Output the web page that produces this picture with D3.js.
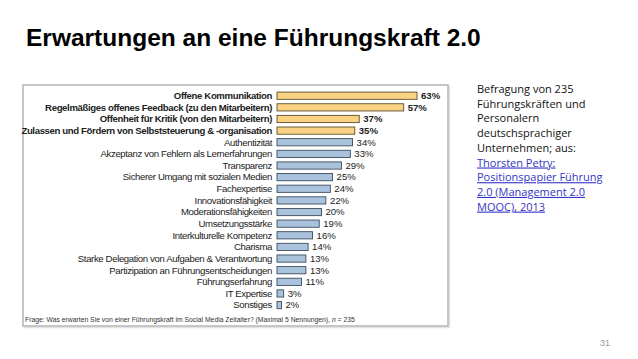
<!DOCTYPE html>
<html><head><meta charset="utf-8">
<script src="https://cdn.jsdelivr.net/npm/d3@7/dist/d3.min.js"></script>
<style>body{margin:0;background:#fff;}svg{display:block;}</style>
</head><body>
<script>
const categories = [
  "Offene Kommunikation",
  "Regelmäßiges offenes Feedback (zu den Mitarbeitern)",
  "Offenheit für Kritik (von den Mitarbeitern)",
  "Zulassen und Fördern von Selbststeuerung & -organisation",
  "Authentizität",
  "Akzeptanz von Fehlern als Lernerfahrungen",
  "Transparenz",
  "Sicherer Umgang mit sozialen Medien",
  "Fachexpertise",
  "Innovationsfähigkeit",
  "Moderationsfähigkeiten",
  "Umsetzungsstärke",
  "Interkulturelle Kompetenz",
  "Charisma",
  "Starke Delegation von Aufgaben & Verantwortung",
  "Partizipation an Führungsentscheidungen",
  "Führungserfahrung",
  "IT Expertise",
  "Sonstiges"
];
const values = [63, 57, 37, 35, 34, 33, 29, 25, 24, 22, 20, 19, 16, 14, 13, 13, 11, 3, 2];
const highlighted = [true, true, true, true, false, false, false, false, false, false, false, false, false, false, false, false, false, false, false];
const title = "Erwartungen an eine Führungskraft 2.0";
const footnote = ["Frage: Was erwarten Sie von einer Führungskraft im Social Media Zeitalter? (Maximal 5 Nennungen), ", "n", " = 235"];
const sideText = ["Befragung von 235", "Führungskräften und", "Personalern", "deutschsprachiger", "Unternehmen; aus:"];
const linkText = ["Thorsten Petry:", "Positionspapier Führung", "2.0 (Management 2.0", "MOOC), 2013"];
const pageNumber = "31";

const W = 638, H = 359;
const svg = d3.select("body").append("svg").attr("width", W).attr("height", H);

svg.append("text").attr("x", 26).attr("y", 46)
  .style("font-family", "Liberation Sans, Arial, sans-serif").style("font-weight", "bold")
  .style("font-size", "24.5px").attr("fill", "#000").text(title);

// chart frame with faint shadow
svg.append("rect").attr("x", 24.5).attr("y", 86.5).attr("width", 425).attr("height", 241)
  .attr("fill", "none").attr("stroke", "#e2e2e2").attr("stroke-width", 1.5);
svg.append("rect").attr("x", 23).attr("y", 85).attr("width", 425).attr("height", 241)
  .attr("fill", "#fff").attr("stroke", "#b4b4b4").attr("stroke-width", 1.5);

const x = d3.scaleLinear().domain([0, 63]).range([277, 417]);
const y = d3.scaleBand().domain(categories).range([89.9, 310.9]).paddingInner(0.38).paddingOuter(0.19);

const g = svg.append("g");
categories.forEach((c, i) => {
  const hl = highlighted[i];
  const cy = y(c) + y.bandwidth() / 2;
  g.append("rect").attr("x", x(0)).attr("y", y(c)).attr("width", x(values[i]) - x(0)).attr("height", y.bandwidth())
    .attr("fill", hl ? "#f9d383" : "#a9c3dc").attr("stroke", hl ? "#5e4e2c" : "#3c4d60").attr("stroke-width", 0.9);
  g.append("text").attr("x", 272).attr("y", cy).attr("dy", "0.35em")
    .attr("text-anchor", "end").style("font-family", "Liberation Sans, Arial, sans-serif")
    .style("font-size", "9.6px").style("font-weight", hl ? "bold" : "normal").attr("fill", "#222")
    .style("letter-spacing", "-0.37px").text(c);
  g.append("text").attr("x", x(values[i]) + 4).attr("y", cy).attr("dy", "0.35em")
    .style("font-family", "Liberation Sans, Arial, sans-serif")
    .style("font-size", "9.6px").style("font-weight", hl ? "bold" : "normal").attr("fill", "#222")
    .text(values[i] + "%");
});

const fn = svg.append("text").attr("x", 25).attr("y", 322)
  .style("font-family", "Liberation Sans, Arial, sans-serif").style("font-size", "6.8px").attr("fill", "#333");
fn.append("tspan").text(footnote[0]);
fn.append("tspan").style("font-style", "italic").text(footnote[1]);
fn.append("tspan").text(footnote[2]);

const side = svg.append("g").style("font-family", "Open Sans, sans-serif").style("font-size", "11px");
sideText.forEach((t, i) => {
  side.append("text").attr("x", 477).attr("y", 93 + i * 14.7).attr("fill", "#111").text(t);
});
linkText.forEach((t, i) => {
  side.append("text").attr("x", 477).attr("y", 93 + (i + sideText.length) * 14.7).attr("fill", "#3535c4")
    .style("text-decoration", "underline").text(t);
});

svg.append("text").attr("x", 600).attr("y", 346).style("font-family", "Liberation Sans, Arial, sans-serif")
  .style("font-size", "9px").attr("fill", "#999").text(pageNumber);
</script>
</body></html>
